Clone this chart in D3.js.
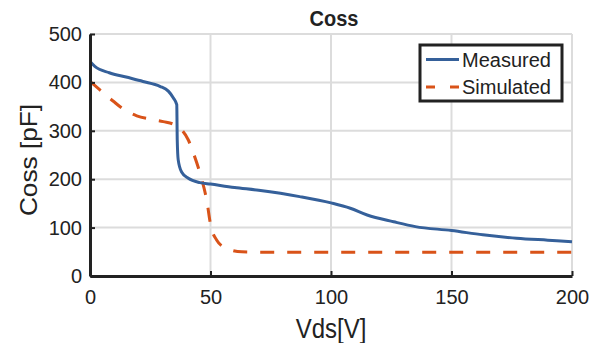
<!DOCTYPE html>
<html>
<head>
  <style>
    body { margin: 0; background: #fff; font-family: "Liberation Sans", Arial, sans-serif; }
    svg text { fill: #222; }
  </style>
</head>
<body>
  <div id="chart"></div>
  <script src="https://d3js.org/d3.v7.min.js"></script>
  <script>
    // Measured Coss curve (Vds, pF)
    const measuredVds = [0, 2, 8, 15, 22, 29, 32.5, 34.6, 36, 36.2, 36.6, 38, 40.8, 45.6, 50, 60, 70, 87, 100, 108, 115, 126, 135, 150, 163, 177, 190, 200];
    const measuredCoss = [443, 433, 420, 411, 402, 392, 382, 368, 354, 281, 240, 215, 202, 193, 190, 183, 177, 164, 151, 140, 126, 112, 102, 94, 85, 78, 74, 71];

    // Simulated Coss curve
    const simulatedVds = [0, 4, 9.7, 13.8, 19.4, 25, 30.4, 35.3, 38, 40.8, 42.9, 45.6, 48.4, 50.2, 52.6, 56.7, 63, 80, 120, 160, 200];
    const simulatedCoss = [402, 385, 361, 345, 331, 324, 319, 312, 302, 281, 254, 213, 157, 102, 74, 57, 50, 49, 49, 49, 49];

    const xTicks = [0, 50, 100, 150, 200];
    const yTicks = [0, 100, 200, 300, 400, 500];
    const seriesNames = ["Measured", "Simulated"];
    const colors = ["#35609a", "#d95319"];

    const W = 602, H = 343;
    const margin = { left: 90, right: 30, top: 34, bottom: 67 };

    const svg = d3.select("#chart").append("svg")
      .attr("width", W).attr("height", H);

    const x = d3.scaleLinear().domain([0, 200]).range([margin.left, W - margin.right]);
    const y = d3.scaleLinear().domain([0, 500]).range([H - margin.bottom, margin.top]);

    // grid
    const grid = svg.append("g");
    grid.selectAll(".gx").data(xTicks).enter().append("line")
      .attr("x1", d => x(d)).attr("x2", d => x(d))
      .attr("y1", y(0)).attr("y2", y(500))
      .attr("stroke", "#dcdcdc").attr("stroke-width", 2);
    grid.selectAll(".gy").data(yTicks).enter().append("line")
      .attr("x1", x(0)).attr("x2", x(200))
      .attr("y1", d => y(d)).attr("y2", d => y(d))
      .attr("stroke", "#dcdcdc").attr("stroke-width", 2);

    // lines
    const line = d3.line().x(d => x(d[0])).y(d => y(d[1])).curve(d3.curveMonotoneX);
    const measured = measuredVds.map((v, i) => [v, measuredCoss[i]]);
    const simulated = simulatedVds.map((v, i) => [v, simulatedCoss[i]]);

    svg.append("path").datum(simulated)
      .attr("d", line)
      .attr("fill", "none").attr("stroke", colors[1])
      .attr("stroke-width", 3).attr("stroke-dasharray", "14,13");

    svg.append("path").datum(measured)
      .attr("d", line)
      .attr("fill", "none").attr("stroke", colors[0])
      .attr("stroke-width", 3).attr("stroke-linejoin", "round");

    // axes
    const xAxis = svg.append("g")
      .attr("transform", `translate(0,${y(0)})`)
      .call(d3.axisBottom(x).tickValues(xTicks).tickSizeInner(-5).tickSizeOuter(0).tickPadding(14));
    const yAxis = svg.append("g")
      .attr("transform", `translate(${x(0)},0)`)
      .call(d3.axisLeft(y).tickValues(yTicks).tickSizeInner(-5).tickSizeOuter(0).tickPadding(8));

    [xAxis, yAxis].forEach(a => {
      a.select(".domain").attr("stroke", "#222").attr("stroke-width", 3);
      a.selectAll(".tick line").attr("stroke", "#222").attr("stroke-width", 2);
      a.selectAll(".tick text")
        .attr("font-family", "Liberation Sans, Arial, sans-serif")
        .attr("font-size", 20).attr("fill", "#222");
    });

    // title and labels
    svg.append("text")
      .attr("transform", `translate(334,26) scale(1,1.1)`)
      .attr("text-anchor", "middle").attr("font-size", 20).attr("font-weight", "bold")
      .text("Coss");
    svg.append("text")
      .attr("transform", `translate(331,338) scale(1,1.12)`)
      .attr("text-anchor", "middle").attr("font-size", 24)
      .text("Vds[V]");
    svg.append("text")
      .attr("transform", `translate(37,160) rotate(-90) scale(1.14,1)`)
      .attr("text-anchor", "middle").attr("font-size", 23)
      .text("Coss [pF]");

    // legend
    const lg = svg.append("g").attr("transform", "translate(420,45)");
    lg.append("rect").attr("width", 142).attr("height", 56)
      .attr("fill", "#fff").attr("stroke", "#222").attr("stroke-width", 3);
    seriesNames.forEach((n, i) => {
      const yy = 14.5 + i * 27.5;
      lg.append("line").attr("x1", 6).attr("x2", 39).attr("y1", yy).attr("y2", yy)
        .attr("stroke", colors[i]).attr("stroke-width", 3)
        .attr("stroke-dasharray", i === 1 ? "9,15" : null);
      lg.append("text").attr("x", 42).attr("y", yy + 7)
        .attr("font-size", 20).text(n);
    });
  </script>
</body>
</html>
